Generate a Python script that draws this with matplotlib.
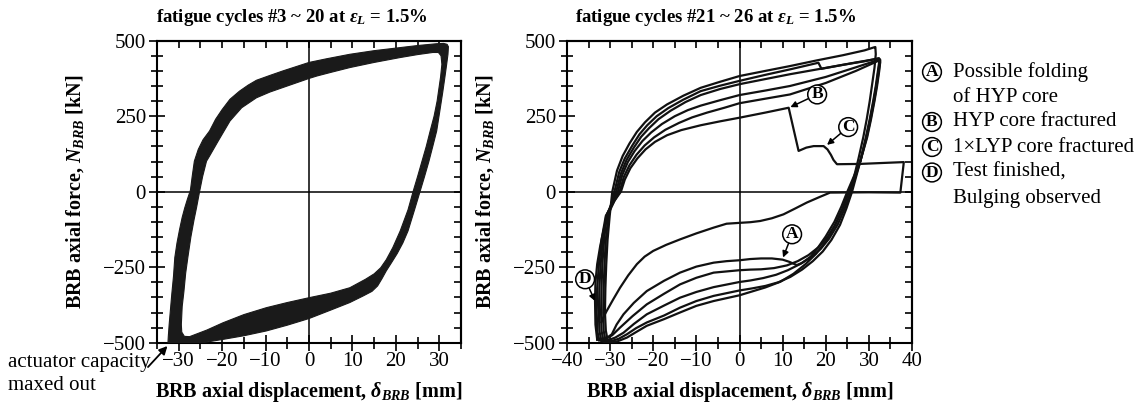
"""Hysteresis loops of a BRB specimen under fatigue cycles (two panels)."""

import matplotlib
matplotlib.use("Agg")
import matplotlib.pyplot as plt
from matplotlib.path import Path
from matplotlib.patches import PathPatch
from matplotlib.ticker import MultipleLocator

plt.rcParams["font.family"] = ["Liberation Serif", "DejaVu Serif"]
plt.rcParams["mathtext.fontset"] = "custom"
plt.rcParams["mathtext.rm"] = "Liberation Serif"
plt.rcParams["mathtext.it"] = "Liberation Serif:italic:bold"
plt.rcParams["mathtext.bf"] = "Liberation Serif:bold"

# ---- left panel: cycles #3-20 overlap into a band; outer and inner edges of it
band_outer_x = [-32.5, -32.4, -32.2, -31.9, -31.6, -31.2, -30.9, -30.4, -29.8, -29.2,
                -28.6, -28.0, -27.3, -26.9, -26.4, -25.5, -24.4, -22.9, -21.5, -20.0,
                -18.2, -16.0, -14.0, -12.1, -9.0, -6.0, -3.0, 0.0, 4.0, 9.4,
                15.0, 20.9, 25.0, 29.4, 31.0, 31.8, 32.1, 32.0, 31.7, 31.3,
                30.8, 30.1, 29.4, 28.5, 27.6, 26.6, 25.6, 24.3, 22.8, 21.6,
                20.3, 19.0, 17.8, 16.8, 15.8, 14.5, 12.5, 9.4, 5.0, 0.0,
                -5.0, -9.8, -15.0, -19.8, -24.0, -27.0, -32.5]
band_outer_y = [-506, -480, -440, -390, -340, -280, -218, -170, -125, -85,
                -53, -25, 5, 50, 101, 140, 172, 201, 240, 272,
                306, 333, 353, 369, 385, 400, 414, 428, 440, 455,
                467, 477, 484, 490, 491, 488, 480, 455, 422, 380,
                330, 265, 201, 150, 100, 50, 2, -60, -130, -170,
                -205, -235, -262, -288, -312, -330, -345, -367, -392, -420,
                -442, -461, -477, -489, -499, -506, -506]
band_inner_x = [-29.4, -29.2, -28.8, -28.4, -27.9, -27.2, -26.5, -25.9, -25.2, -24.5,
                -23.6, -22.9, -20.9, -18.2, -15.5, -12.1, -9.0, -5.0, 0.0, 1.8,
                5.0, 9.4, 15.0, 20.9, 25.0, 28.5, 29.8, 30.4, 30.6, 30.3,
                29.9, 29.5, 28.8, 27.9, 27.0, 26.0, 25.0, 24.0, 22.8, 21.0,
                19.3, 17.8, 16.5, 15.0, 13.0, 9.4, 5.0, 0.0, -5.0, -9.8,
                -15.0, -19.8, -23.5, -25.5, -27.5, -28.7, -29.3, -29.4]
band_inner_y = [-440, -380, -330, -270, -218, -150, -95, -53, 0, 50,
                101, 118, 168, 234, 278, 311, 330, 350, 375, 383,
                395, 411, 428, 444, 454, 461, 461, 450, 422, 380,
                340, 300, 250, 201, 150, 100, 50, 2, -60, -130,
                -185, -225, -252, -272, -290, -318, -336, -351, -367, -384,
                -407, -434, -458, -469, -480, -479, -465, -440]

# ---- right panel: cycles #21-26 (upper branch, unloading, lower branch)
c21_x = [-30.5, -31.0, -31.2, -31.1, -30.9, -30.6, -30.1, -29.5, -28.4, -27.1,
         -25.5, -23.8, -21.9, -19.6, -16.8, -13.0, -9.0, -4.5, 0.0, 6.0,
         11.7, 18.0, 24.0, 29.0, 31.2, 31.5, 31.6, 31.3, 30.8, 30.2,
         29.5, 28.7, 27.6, 26.4, 25.3, 23.9, 22.0, 20.0, 17.8, 15.3,
         12.5, 9.5, 6.0, 3.0, 0.0, -6.0, -10.0, -13.8, -17.5, -21.5,
         -24.0, -26.1, -28.2, -30.0, -31.0]
c21_y = [-497, -460, -400, -320, -240, -160, -80, 0, 70, 118,
         160, 198, 230, 262, 289, 318, 344, 364, 383, 400,
         416, 435, 452, 468, 478, 479, 455, 410, 360, 300,
         240, 180, 110, 40, 0, -55, -115, -165, -205, -240,
         -272, -298, -317, -330, -343, -362, -378, -400, -422, -444,
         -465, -483, -495, -500, -498]
c22_x = [-31.0, -31.5, -31.6, -31.5, -31.3, -31.0, -30.4, -29.0, -27.9, -26.6,
         -24.9, -23.2, -21.4, -19.2, -16.5, -13.0, -9.0, -4.5, 0.0, 6.0,
         11.7, 18.3, 19.0, 24.0, 29.0, 32.3, 32.4, 32.1, 31.6, 31.0,
         30.2, 29.3, 28.0, 26.1, 24.8, 23.3, 21.3, 19.3, 17.0, 14.5,
         11.8, 9.0, 6.0, 3.0, 0.0, -6.0, -10.0, -13.8, -17.5, -21.5,
         -24.0, -26.1, -28.0, -29.8, -31.5]
c22_y = [-498, -460, -400, -320, -240, -160, -80, 0, 65, 110,
         152, 190, 220, 250, 277, 305, 333, 351, 367, 387,
         405, 427, 407, 420, 432, 442, 430, 400, 350, 300,
         240, 180, 100, 0, -55, -110, -160, -198, -230, -258,
         -282, -300, -312, -320, -327, -345, -362, -384, -410, -433,
         -452, -472, -487, -495, -497]
c23_x = [-31.5, -32.0, -32.1, -32.0, -31.8, -31.4, -30.8, -28.6, -27.5, -26.2,
         -24.5, -22.8, -21.0, -18.8, -16.0, -12.5, -9.0, -4.5, 0.0, 6.0,
         11.7, 20.0, 27.0, 32.4, 32.5, 32.2, 31.7, 31.1, 30.3, 29.4,
         28.0, 25.8, 24.4, 22.8, 20.8, 18.8, 16.5, 14.0, 11.2, 8.5,
         5.5, 2.5, 0.0, -6.0, -10.0, -13.8, -17.5, -21.5, -24.5, -26.9,
         -28.8, -30.5, -32.0]
c23_y = [-497, -460, -400, -320, -240, -160, -80, 0, 60, 105,
         146, 182, 210, 240, 268, 297, 320, 340, 356, 373,
         389, 410, 428, 441, 430, 400, 350, 300, 240, 180,
         100, 0, -55, -108, -155, -190, -218, -240, -260, -275,
         -286, -294, -299, -316, -332, -351, -377, -406, -438, -467,
         -483, -492, -495]
c24_x = [-32.0, -32.5, -32.6, -32.5, -32.2, -31.7, -30.9, -28.2, -27.2, -25.9,
         -24.3, -22.5, -20.5, -18.0, -15.0, -12.0, -9.0, -4.5, 0.0, 6.0,
         11.7, 20.0, 27.0, 32.6, 32.6, 32.3, 31.8, 31.2, 30.4, 29.5,
         28.0, 25.4, 24.0, 22.4, 20.4, 18.4, 16.0, 13.5, 11.0, 8.0,
         5.0, 2.5, 0.0, -6.0, -10.0, -13.8, -17.5, -21.5, -24.8, -27.7,
         -29.5, -31.0, -32.5]
c24_y = [-495, -460, -400, -320, -240, -160, -80, 0, 55, 98,
         135, 168, 196, 224, 250, 270, 285, 303, 320, 335,
         350, 380, 412, 438, 428, 400, 350, 300, 240, 180,
         100, 0, -55, -105, -150, -183, -210, -230, -244, -253,
         -257, -258, -260, -268, -285, -307, -338, -373, -412, -450,
         -475, -487, -492]
c25_x = [-32.5, -33.0, -33.1, -33.0, -32.6, -32.0, -31.0, -27.8, -26.8, -25.5,
         -23.9, -22.0, -19.8, -17.2, -14.0, -11.0, -7.5, -3.5, 0.0, 6.0,
         11.7, 20.0, 27.0, 32.6, 32.6, 32.4, 31.9, 31.3, 30.5, 29.6,
         28.0, 25.0, 23.6, 22.0, 20.0, 18.2, 16.5, 14.5, 13.3, 11.5,
         10.0, 7.5, 5.0, 2.5, 0.0, -3.0, -6.0, -10.0, -13.8, -17.5,
         -21.5, -24.5, -26.9, -28.5, -29.6, -31.5, -33.0]
c25_y = [-492, -460, -400, -320, -240, -160, -80, 0, 50, 88,
         122, 153, 180, 205, 228, 246, 262, 278, 293, 308,
         322, 360, 400, 436, 426, 400, 350, 300, 240, 180,
         100, 0, -50, -100, -148, -185, -215, -236, -243, -232,
         -225, -221, -221, -223, -227, -230, -235, -248, -268, -295,
         -329, -368, -406, -440, -472, -492, -490]
c26_x = [-33.0, -33.4, -33.5, -33.4, -33.0, -32.3, -31.4, -30.3, -29.0, -27.5,
         -26.6, -25.3, -23.7, -21.8, -19.6, -16.8, -13.5, -9.0, -4.5, 0.0,
         6.0, 11.4, 13.7, 15.5, 17.2, 19.5, 20.4, 21.2, 21.8, 22.6,
         28.0, 33.0, 38.1, 37.3, 30.0, 21.0, 18.5, 15.6, 13.0, 10.2,
         7.5, 4.8, 2.5, 0.2, -3.0, -6.0, -10.0, -13.8, -17.0, -20.0,
         -22.0, -23.8, -25.8, -27.7, -29.3, -30.8, -31.6, -32.0]
c26_y = [-490, -440, -362, -300, -240, -180, -120, -70, -30, 0,
         40, 78, 110, 140, 165, 187, 204, 220, 233, 245,
         262, 278, 135, 146, 151, 151, 140, 122, 105, 91,
         92, 95, 98, -3, -2, -3, -18, -36, -55, -75,
         -88, -97, -101, -103, -106, -119, -138, -158, -176, -196,
         -215, -240, -277, -318, -357, -395, -417, -432]

right_cycles = [(c21_x, c21_y), (c22_x, c22_y), (c23_x, c23_y),
                (c24_x, c24_y), (c25_x, c25_y), (c26_x, c26_y)]

# event markers: letter, label position, arrow tip (data coords of right panel)
event_letters = ["A", "B", "C", "D"]
event_label_xy = [(12.2, -141), (18.0, 322), (25.2, 214), (-35.8, -290)]
event_tip_xy = [(10.1, -218), (11.8, 280), (20.3, 155), (-33.5, -362)]
legend_lines = [("A", "Possible folding"), (None, "of HYP core"),
                ("B", "HYP core fractured"), ("C", "1×LYP core fractured"),
                ("D", "Test finished,"), (None, "Bulging observed")]

W, H = 1145, 404
fig = plt.figure(figsize=(W / 100, H / 100), dpi=100)
ax_l = fig.add_axes([157 / W, 1 - 342.7 / H, 304 / W, 302 / H])
ax_r = fig.add_axes([567 / W, 1 - 342.7 / H, 345 / W, 302 / H])

circle_box = dict(boxstyle="circle,pad=0.08", fc="white", ec="black", lw=1.1)


def style_axes(ax, xlim):
    ax.set_xlim(*xlim)
    ax.set_ylim(-500, 500)
    ax.axhline(0, color="black", lw=1.1, zorder=1)
    ax.axvline(0, color="black", lw=1.1, zorder=1)
    for sp in ax.spines.values():
        sp.set_linewidth(1.5)
    ax.xaxis.set_major_locator(MultipleLocator(10))
    ax.xaxis.set_minor_locator(MultipleLocator(5))
    ax.yaxis.set_major_locator(MultipleLocator(250))
    ax.yaxis.set_minor_locator(MultipleLocator(50))
    ax.tick_params(which="both", direction="inout", width=1.2, labelsize=15)
    ax.tick_params(which="major", length=12)
    ax.tick_params(which="minor", length=9)
    ax.tick_params(axis="x", pad=1)
    ax.tick_params(axis="y", pad=2)
    top = ax.secondary_xaxis("top")
    top.xaxis.set_major_locator(MultipleLocator(5))
    top.tick_params(direction="in", length=5, width=1.2, labeltop=False)
    right = ax.secondary_yaxis("right")
    right.yaxis.set_major_locator(MultipleLocator(50))
    right.tick_params(direction="in", length=5, width=1.2, labelright=False)
    for sec in (top, right):
        for sp in sec.spines.values():
            sp.set_linewidth(1.5)
    ax.set_xlabel(r"BRB axial displacement, $\delta_{BRB}$ [mm]",
                  fontsize=14.5, fontweight="bold")
    ax.set_ylabel(r"BRB axial force, $N_{BRB}$ [kN]",
                  fontsize=14.5, fontweight="bold")


# left panel
style_axes(ax_l, (-35, 35))
verts = (list(zip(band_outer_x, band_outer_y))
         + list(zip(band_inner_x[::-1], band_inner_y[::-1])))
codes = ([Path.MOVETO] + [Path.LINETO] * (len(band_outer_x) - 1)
         + [Path.MOVETO] + [Path.LINETO] * (len(band_inner_x) - 1))
ax_l.add_patch(PathPatch(Path(verts, codes), fc="#1a1a1a", ec="#1a1a1a",
                         lw=0.8, joinstyle="round", zorder=3))
ax_l.xaxis.set_label_coords(0.5, -0.125)
ax_l.yaxis.set_label_coords(-0.234, 0.5)

fig.text(8 / W, 1 - 353 / H, "actuator capacity\nmaxed out", fontsize=15,
         ha="left", va="top", linespacing=1.25)
ax_l.annotate("", xy=(-32.6, -511), xytext=(148, H - 367), textcoords="figure pixels",
              annotation_clip=False,
              arrowprops=dict(arrowstyle="-|>", color="black", lw=1.3,
                              mutation_scale=12, shrinkA=0, shrinkB=0))

# right panel
style_axes(ax_r, (-40, 40))
for cx, cy in right_cycles:
    ax_r.plot(cx, cy, color="#111111", lw=1.6, solid_joinstyle="round", zorder=3)
ax_r.xaxis.set_label_coords(0.5, -0.125)
ax_r.yaxis.set_label_coords(-0.205, 0.5)

for letter, lab, tip in zip(event_letters, event_label_xy, event_tip_xy):
    ax_r.annotate(letter, xy=tip, xytext=lab, fontsize=12.5, fontweight="bold",
                  ha="center", va="center", bbox=circle_box, zorder=5,
                  arrowprops=dict(arrowstyle="-|>", color="black", lw=1.1,
                                  mutation_scale=9, shrinkA=0, shrinkB=0))

# titles
fig.text(292 / W, 1 - 22 / H, r"fatigue cycles #3 ~ 20 at $\varepsilon_L$ = 1.5%",
         fontsize=13.5, fontweight="bold", ha="center", va="baseline")
fig.text(716 / W, 1 - 22 / H, r"fatigue cycles #21 ~ 26 at $\varepsilon_L$ = 1.5%",
         fontsize=13.5, fontweight="bold", ha="center", va="baseline")

# legend of events
row_y = [72, 97, 122, 147, 172.5, 198]
for (letter, txt), ry in zip(legend_lines, row_y):
    if letter:
        fig.text(932 / W, 1 - ry / H, letter, fontsize=12.5, fontweight="bold",
                 ha="center", va="center", bbox=circle_box)
    fig.text(953 / W, 1 - ry / H, txt, fontsize=15, ha="left", va="center")

fig.savefig("out.png", dpi=100)
